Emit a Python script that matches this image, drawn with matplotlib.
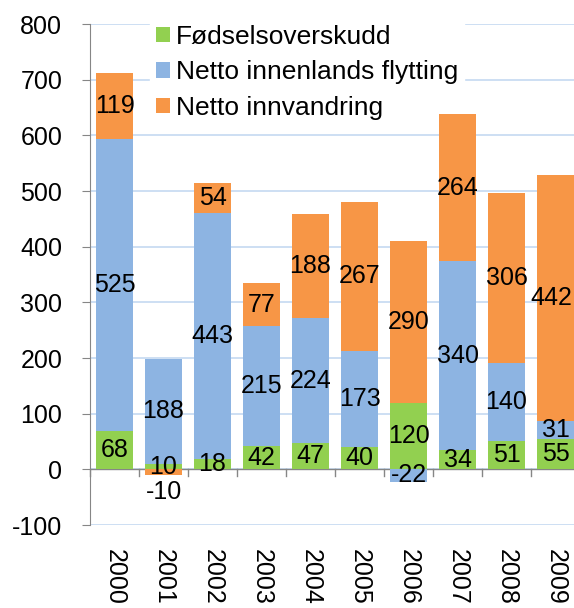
import matplotlib.pyplot as plt
import numpy as np

plt.rcParams['font.family'] = ['Liberation Sans', 'DejaVu Sans']
plt.rcParams['axes.unicode_minus'] = False

years = ['2000', '2001', '2002', '2003', '2004', '2005', '2006', '2007', '2008', '2009']
fodsel = [68, 10, 18, 42, 47, 40, 120, 34, 51, 55]
innenlands = [525, 188, 443, 215, 224, 173, -22, 340, 140, 31]
innvandring = [119, -10, 54, 77, 188, 267, 290, 264, 306, 442]

series = [
    ('Fødselsoverskudd', fodsel, '#92D050'),
    ('Netto innenlands flytting', innenlands, '#8DB4E2'),
    ('Netto innvandring', innvandring, '#F79646'),
]

fig = plt.figure(figsize=(5.74, 6.08), dpi=100)
ax = fig.add_axes([0.1568, 0.1365, 0.8537, 0.824])

x = np.arange(len(years))
width = 0.77
pos_base = np.zeros(len(years))
neg_base = np.zeros(len(years))
labels = []

for name, vals, color in series:
    vals = np.array(vals, dtype=float)
    bottoms = np.where(vals >= 0, pos_base, neg_base)
    ax.bar(x, vals, width, bottom=bottoms, color=color, label=name, zorder=2)
    for i, v in enumerate(vals):
        yc = bottoms[i] + v / 2
        # push tiny negative label below the axis so it does not overlap
        if v < 0 and abs(v) < 15:
            yc = bottoms[i] + v - 30
        t = ax.text(x[i], yc, f'{int(v)}', ha='center', va='center',
                    fontsize=18, color='black', zorder=3)
        labels.append(t)
    pos_base = pos_base + np.where(vals >= 0, vals, 0)
    neg_base = neg_base + np.where(vals < 0, vals, 0)

ax.set_xlim(-0.5, len(years) - 0.5)
ax.set_ylim(-100, 800)
ax.set_yticks(range(-100, 801, 100))
ax.yaxis.grid(True, color='#C5D9F1', linewidth=1.2, zorder=0)
ax.set_axisbelow(True)

for s in ['top', 'right', 'bottom']:
    ax.spines[s].set_visible(False)
ax.spines['left'].set_color('#868686')
ax.axhline(0, color='#868686', linewidth=1, zorder=1)

# x ticks between categories, labels at centers
ax.set_xticks(x)
ax.set_xticklabels(years, rotation=-90, fontsize=18)
ax.tick_params(axis='x', length=0, pad=17)
for b in np.arange(-0.5, len(years) + 0.5, 1.0):
    ax.plot([b, b], [0, -12], color='#868686', linewidth=1, clip_on=False, zorder=1)
ax.tick_params(axis='y', labelsize=18, color='#868686', length=6, direction='out', pad=14)

leg = ax.legend(loc='upper left', bbox_to_anchor=(0.096, 1.035), fontsize=19,
                frameon=True, facecolor='white', edgecolor='white', framealpha=1,
                handlelength=0.53, handleheight=0.53, handletextpad=0.25,
                labelspacing=0.43, borderpad=0.2, fancybox=False)
leg.set_zorder(1.5)  # above grid, below bars

# keep data labels inside the figure (like Excel does at the right edge)
fig.canvas.draw()
renderer = fig.canvas.get_renderer()
fig_w = fig.bbox.width
for t in labels:
    bb = t.get_window_extent(renderer)
    if bb.x1 > fig_w - 2:
        shift = bb.x1 - (fig_w - 2)
        xd, yd = t.get_position()
        px = ax.transData.transform((xd, yd))
        t.set_position(ax.transData.inverted().transform((px[0] - shift, px[1])))

fig.savefig('out.png', dpi=100)
